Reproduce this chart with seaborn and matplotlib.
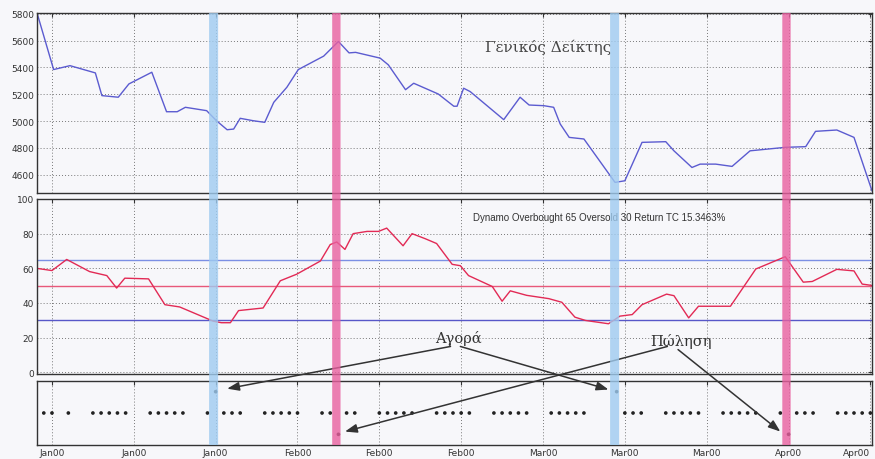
import numpy as np
import pandas as pd
import matplotlib
matplotlib.use("Agg")
import matplotlib.pyplot as plt
from matplotlib.patches import ConnectionPatch
import seaborn as sns

# ---------------- data (x = day of year 2000) ----------------
index_days = [3.2, 5.2, 7.2, 10.3, 11.1, 13.1, 14.4, 17.2, 19.0, 20.3, 21.3, 23.9, 25.1,
              26.4, 27.2, 28.0, 29.6, 31.0, 32.1, 33.7, 35.1, 38.2, 40.0, 41.3, 42.1, 45.1,
              46.1, 48.2, 49.2, 52.2, 54.1, 54.5, 55.3, 56.1, 60.2, 62.2, 63.3, 65.1, 66.3,
              67.1, 68.2, 70.0, 73.8, 75.0, 77.1, 80.0, 81.0, 83.2, 84.2, 86.1, 88.1, 90.3,
              94.6, 97.1, 98.3, 100.9, 103.0, 105.2]
index_vals = [5800, 5384, 5413, 5359, 5190, 5178, 5277, 5364, 5070, 5070, 5103, 5078, 5003,
              4936, 4941, 5021, 5003, 4991, 5140, 5252, 5384, 5484, 5593, 5508, 5512, 5469,
              5419, 5234, 5282, 5202, 5111, 5111, 5245, 5220, 5011, 5178, 5120, 5115, 5103,
              4979, 4879, 4867, 4544, 4556, 4842, 4847, 4779, 4655, 4680, 4680, 4663, 4779,
              4805, 4810, 4924, 4934, 4879, 4481]

osc_days = [3.1, 5.0, 6.8, 9.6, 11.7, 12.9, 13.9, 16.8, 18.8, 20.6, 24.7, 25.7, 26.8, 27.8,
            30.8, 32.9, 34.9, 37.8, 39.0, 39.8, 40.8, 41.8, 43.5, 44.9, 45.9, 47.9, 49.0,
            50.6, 52.0, 53.9, 54.9, 55.9, 58.8, 60.0, 61.0, 63.0, 65.7, 67.3, 68.9, 70.2,
            73.0, 74.4, 75.9, 77.1, 80.1, 81.0, 82.8, 84.0, 87.9, 91.0, 94.6, 96.8, 97.9,
            100.9, 103.0, 104.0, 105.2]
osc_vals = [60, 58.7, 65.1, 58.1, 55.8, 48.6, 54.3, 53.9, 39.0, 37.7, 29.5, 28.6, 28.6, 35.6,
            37.1, 52.8, 56.6, 64.2, 73.7, 75.2, 70.9, 80.0, 81.3, 81.3, 83.2, 73.0, 80.0,
            77.1, 74.3, 62.3, 61.5, 55.8, 49.5, 41.0, 47.0, 44.4, 42.5, 40.4, 31.8, 29.9,
            28.0, 32.4, 33.3, 39.0, 45.1, 44.2, 31.4, 38.1, 38.1, 59.6, 66.7, 52.0, 52.4,
            59.4, 58.5, 50.9, 50.1]

overbought, midline, oversold = 65, 50, 30

trade_days = [3, 4, 5, 7, 10, 11, 12, 13, 14, 17, 18, 19, 20, 21, 24, 25, 26, 27, 28,
              31, 32, 33, 34, 35, 38, 39, 40, 41, 42, 45, 46, 47, 48, 49, 52, 53, 54, 55, 56,
              59, 60, 61, 62, 63, 66, 67, 68, 69, 70, 74, 75, 76, 77, 80, 81, 82, 83, 84,
              87, 88, 89, 90, 91, 94, 95, 96, 97, 98, 101, 102, 103, 104, 105]
buy_days = [25, 74]
sell_days = [40, 95]

tick_days = [5, 15, 25, 35, 45, 55, 65, 75, 85, 95, 105]
tick_labels = ["Jan00", "Jan00", "Jan00", "Feb00", "Feb00", "Feb00",
               "Mar00", "Mar00", "Mar00", "Apr00", "Apr00"]

title_top = "Γενικός Δείκτης"
title_mid = "Dynamo Overbought 65 Oversold 30 Return TC 15.3463%"
buy_label = "Αγορά"
sell_label = "Πώληση"

# signal value per trading day
signal = [1 if d in buy_days else (-1 if d in sell_days else 0) for d in trade_days]
df_idx = pd.DataFrame({"day": index_days, "val": index_vals})
df_osc = pd.DataFrame({"day": osc_days, "val": osc_vals})
df_sig = pd.DataFrame({"day": trade_days, "sig": signal})

# ---------------- style ----------------
sns.set_theme(style="white")
plt.rcParams["font.family"] = ["DejaVu Sans"]
bg = "#f7f7fa"
fig = plt.figure(figsize=(8.75, 4.6), dpi=100, facecolor=bg)

L, W = 37 / 875, 835 / 875
ax1 = fig.add_axes([L, 1 - 194 / 460, W, 180 / 460])
ax2 = fig.add_axes([L, 1 - 375 / 460, W, 175 / 460])
ax3 = fig.add_axes([L, 1 - 446 / 460, W, 64 / 460])

xlim = (3.17, 105.2)
grid_ls = (0, (1, 2.4))
for ax in (ax1, ax2, ax3):
    ax.set_facecolor(bg)
    ax.set_xlim(*xlim)
    ax.set_xticks(tick_days)
    ax.grid(True, axis="x", linestyle=grid_ls, color="#666666", lw=0.65)
    for s in ax.spines.values():
        s.set_color("#333333")
        s.set_linewidth(1.0)
    ax.tick_params(direction="in", length=3, width=0.8, color="#333333",
                   top=True, right=True, labelsize=6.5, labelcolor="#333333", pad=2)

# top: general index
sns.lineplot(data=df_idx, x="day", y="val", ax=ax1, color="#5b5bd0", lw=1.0)
ax1.set_ylim(4465, 5805)
ax1.set_yticks([4600, 4800, 5000, 5200, 5400, 5600, 5800])
ax1.grid(True, axis="y", linestyle=grid_ls, color="#666666", lw=0.65)
ax1.set_xticklabels([])
ax1.set_xlabel(""); ax1.set_ylabel("")
ax1.text(0.612, 0.817, title_top, transform=ax1.transAxes, ha="center", va="center",
         fontsize=11, family="DejaVu Serif", color="#444444")

# middle: oscillator
ax2.axhline(overbought, color="#7b8fe4", lw=1.0)
ax2.axhline(midline, color="#e8587a", lw=1.0)
ax2.axhline(oversold, color="#5757c8", lw=1.0)
sns.lineplot(data=df_osc, x="day", y="val", ax=ax2, color="#e22a55", lw=1.0)
ax2.set_ylim(-1, 100)
ax2.set_yticks([0, 20, 40, 60, 80, 100])
ax2.grid(True, axis="y", linestyle=grid_ls, color="#666666", lw=0.65)
ax2.set_xticklabels([])
ax2.set_xlabel(""); ax2.set_ylabel("")
ax2.text(0.673, 0.897, title_mid, transform=ax2.transAxes, ha="center", va="center",
         fontsize=7, family="Liberation Sans", color="#333333")

# bottom: signals
sns.scatterplot(data=df_sig, x="day", y="sig", ax=ax3, color="#222222", s=7,
                marker="o", edgecolor="none", legend=False)
ax3.set_ylim(-1.5, 1.5)
ax3.set_yticks([])
ax3.set_xticklabels(tick_labels)
ax3.tick_params(axis="x", labelsize=6.5, pad=2)
ax3.get_xticklabels()[-1].set_horizontalalignment("right")
ax3.set_xlabel(""); ax3.set_ylabel("")

# signal bands spanning all three panels
for days, col, w in ((buy_days, "#9fcbf0", 6.5), (sell_days, "#e8609f", 6.0)):
    for d in days:
        cp = ConnectionPatch(xyA=(d - 0.25, 1), coordsA=ax1.get_xaxis_transform(),
                             xyB=(d - 0.25, 0), coordsB=ax3.get_xaxis_transform(),
                             color=col, lw=w, alpha=0.8, capstyle="butt", zorder=5)
        fig.add_artist(cp)

# annotations
arrow_kw = dict(arrowstyle="-|>,head_length=0.6,head_width=0.22", color="#333333",
                lw=1.1, shrinkA=0, shrinkB=0)
ax2.text(54.7, 20, buy_label, ha="center", va="center", fontsize=10.5,
         family="DejaVu Serif", color="#333333")
ax2.text(81.8, 18.3, sell_label, ha="center", va="center", fontsize=10.5,
         family="DejaVu Serif", color="#333333")
buy_arrows = [((53.7, 14.9), (26.4, 1.14)), ((54.9, 14.9), (73.0, 1.1))]
sell_arrows = [((80.2, 14.9), (40.8, -0.87)), ((81.5, 13.1), (94.0, -0.87))]
for start, end in buy_arrows + sell_arrows:
    ax3.annotate("", xy=end, xycoords="data", xytext=start,
                 textcoords=ax2.transData, arrowprops=arrow_kw, annotation_clip=False)

fig.savefig("out.png", dpi=100, facecolor=bg)
